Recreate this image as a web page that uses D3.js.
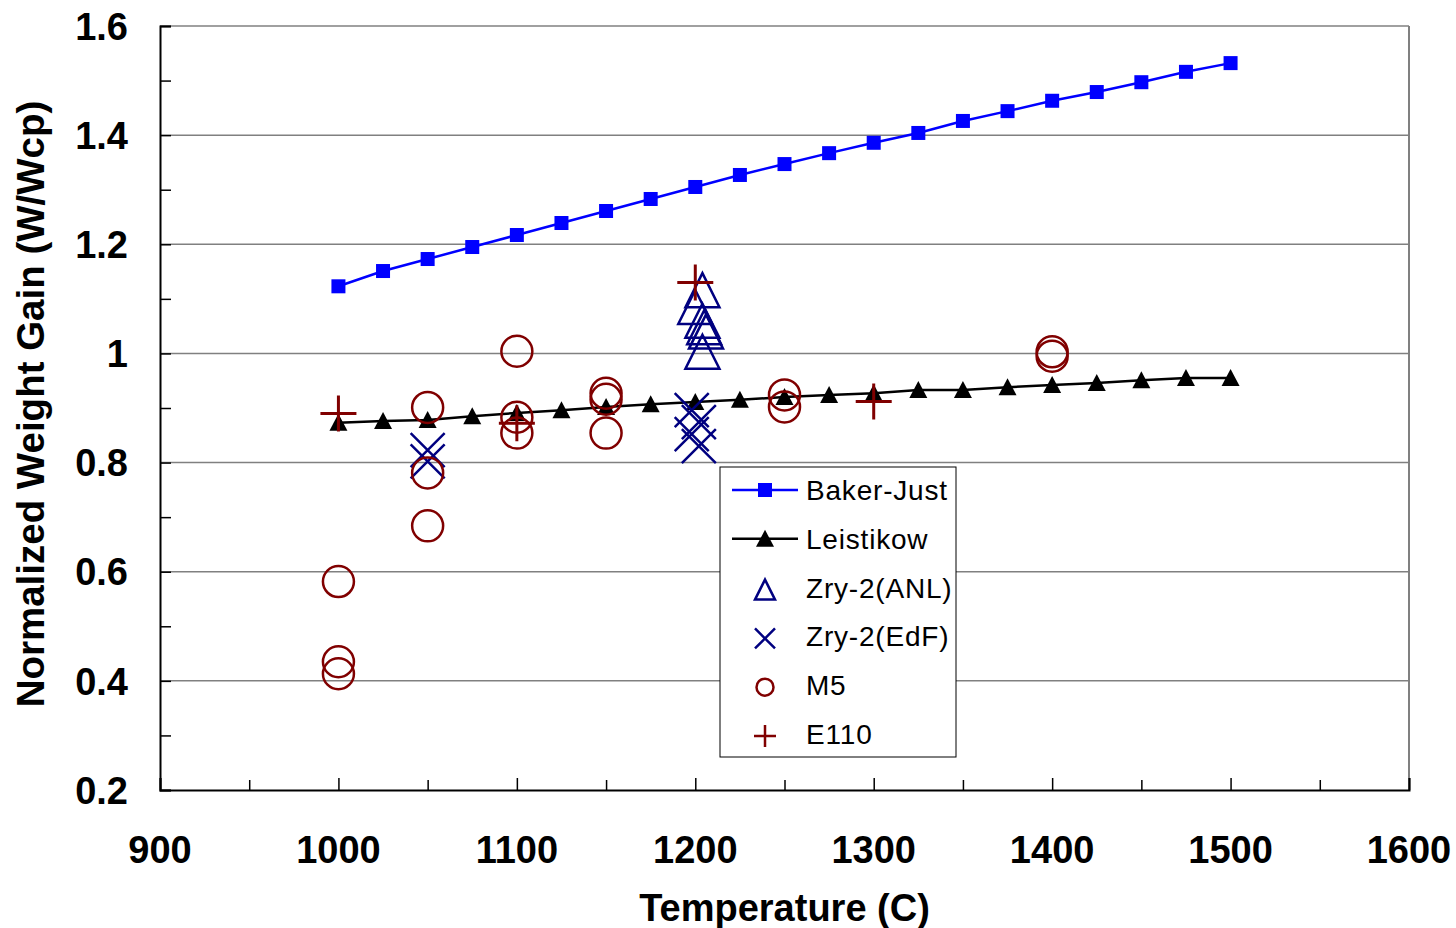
<!DOCTYPE html>
<html>
<head>
<meta charset="utf-8">
<script src="https://cdn.jsdelivr.net/npm/d3@7"></script>
<style>
  body { margin: 0; background: #fff; }
  text { font-family: "Liberation Sans", Arial, sans-serif; }
</style>
</head>
<body>
<div id="chart"></div>
<script>
// Baker-Just and Leistikow correlations
var bjTemp = [1000, 1025, 1050, 1075, 1100, 1125, 1150, 1175, 1200, 1225, 1250, 1275, 1300, 1325, 1350, 1375, 1400, 1425, 1450, 1475, 1500];
var bjGain = [1.123, 1.151, 1.173, 1.195, 1.217, 1.239, 1.261, 1.283, 1.305, 1.327, 1.347, 1.367, 1.386, 1.404, 1.426, 1.444, 1.463, 1.479, 1.497, 1.516, 1.532];
var lkTemp = bjTemp;
var lkGain = [0.873, 0.876, 0.878, 0.885, 0.891, 0.896, 0.902, 0.907, 0.911, 0.915, 0.920, 0.924, 0.927, 0.933, 0.933, 0.938, 0.942, 0.946, 0.951, 0.955, 0.955];

// measured points
var anlTemp = [1204, 1200, 1204, 1205, 1206, 1204];
var anlGain = [1.116, 1.085, 1.06, 1.048, 1.04, 1.003];
var edfTemp = [1050, 1050, 1198, 1202, 1198, 1202];
var edfGain = [0.823, 0.802, 0.896, 0.874, 0.852, 0.830];
var m5Temp = [1000, 1000, 1000, 1050, 1050, 1050, 1100, 1100, 1100, 1150, 1150, 1150, 1250, 1250, 1400, 1400];
var m5Gain = [0.582, 0.435, 0.413, 0.901, 0.781, 0.684, 1.004, 0.883, 0.854, 0.927, 0.916, 0.854, 0.924, 0.902, 1.003, 0.995];
var e110Temp = [1000, 1100, 1200, 1300];
var e110Gain = [0.890, 0.872, 1.130, 0.912];

var xTicks = [900, 1000, 1100, 1200, 1300, 1400, 1500, 1600];
var yTicks = [0.2, 0.4, 0.6, 0.8, 1.0, 1.2, 1.4, 1.6];
var legendNames = ["Baker-Just", "Leistikow", "Zry-2(ANL)", "Zry-2(EdF)", "M5", "E110"];

function pairs(xs, ys) {
    return xs.map(function (v, i) { return { t: v, g: ys[i] }; });
}

var W = 1456, H = 928;
var pLeft = 160, pRight = 1409, pTop = 26, pBottom = 790;

var svg = d3.select("#chart").append("svg")
    .attr("width", W)
    .attr("height", H);

var x = d3.scaleLinear().domain([900, 1600]).range([pLeft, pRight]);
var y = d3.scaleLinear().domain([0.2, 1.6]).range([pBottom, pTop]);

var navy = "#000080", maroon = "#800000", blue = "#0000ff";

// grid lines
svg.append("g")
    .selectAll("line")
    .data(yTicks.slice(1))
    .enter().append("line")
    .attr("x1", pLeft).attr("x2", pRight)
    .attr("y1", function (d) { return y(d); })
    .attr("y2", function (d) { return y(d); })
    .attr("stroke", "#808080")
    .attr("stroke-width", 1.5);

svg.append("line")
    .attr("x1", pRight).attr("x2", pRight)
    .attr("y1", pTop).attr("y2", pBottom)
    .attr("stroke", "#808080")
    .attr("stroke-width", 2);

// axes
var xAxis = d3.axisBottom(x).tickValues(d3.range(900, 1601, 50)).tickSize(-12).tickFormat("");
svg.append("g")
    .attr("transform", "translate(0," + pBottom + ")")
    .call(xAxis)
    .call(function (g) {
        g.select(".domain").attr("stroke", "#000").attr("stroke-width", 2);
        g.selectAll(".tick line").attr("stroke-width", 1.5)
            .attr("y2", function (d) { return d % 100 === 0 ? -12 : -10; });
    });

var yAxis = d3.axisLeft(y).tickValues(d3.range(2, 17).map(function (v) { return v / 10; })).tickSize(-11).tickFormat("");
svg.append("g")
    .attr("transform", "translate(" + pLeft + ",0)")
    .call(yAxis)
    .call(function (g) {
        g.select(".domain").attr("stroke", "#000").attr("stroke-width", 2);
        g.selectAll(".tick line").attr("stroke-width", 1.5);
    });

svg.append("g")
    .selectAll("text")
    .data(xTicks)
    .enter().append("text")
    .attr("x", function (d) { return x(d); })
    .attr("y", 863)
    .attr("text-anchor", "middle")
    .style("font-size", "38px")
    .style("font-weight", "bold")
    .text(function (d) { return d; });

svg.append("g")
    .selectAll("text")
    .data(yTicks)
    .enter().append("text")
    .attr("x", 128)
    .attr("y", function (d) { return y(d); })
    .attr("dy", "0.36em")
    .attr("text-anchor", "end")
    .style("font-size", "38px")
    .style("font-weight", "bold")
    .text(function (d) { return d === 1 ? "1" : d.toFixed(1); });

svg.append("text")
    .attr("x", (pLeft + pRight) / 2)
    .attr("y", 921)
    .attr("text-anchor", "middle")
    .style("font-size", "38px")
    .style("font-weight", "bold")
    .text("Temperature (C)");

svg.append("text")
    .attr("transform", "translate(44," + 404 + ") rotate(-90)")
    .attr("text-anchor", "middle")
    .style("font-size", "38.5px")
    .style("font-weight", "bold")
    .text("Normalized Weight Gain (W/Wcp)");

// marker shapes
function triPath(h) { return "M0," + (-h) + "L" + h + "," + h + "L" + (-h) + "," + h + "Z"; }
function crossPath(h) { return "M" + (-h) + "," + (-h) + "L" + h + "," + h + "M" + h + "," + (-h) + "L" + (-h) + "," + h; }
function plusPath(h) { return "M" + (-h) + ",0L" + h + ",0M0," + (-h) + "L0," + h; }
var solidTri = "M0,-9L9,8L-9,8Z";

var line = d3.line()
    .x(function (d) { return x(d.t); })
    .y(function (d) { return y(d.g); });

var bj = pairs(bjTemp, bjGain);
var lk = pairs(lkTemp, lkGain);

svg.append("path").datum(lk)
    .attr("d", line)
    .attr("fill", "none")
    .attr("stroke", "#000")
    .attr("stroke-width", 2.5);

svg.append("g").selectAll("path")
    .data(lk)
    .enter().append("path")
    .attr("transform", function (d) { return "translate(" + x(d.t) + "," + y(d.g) + ")"; })
    .attr("d", solidTri)
    .attr("fill", "#000");

svg.append("path").datum(bj)
    .attr("d", line)
    .attr("fill", "none")
    .attr("stroke", blue)
    .attr("stroke-width", 2.5);

svg.append("g").selectAll("rect")
    .data(bj)
    .enter().append("rect")
    .attr("x", function (d) { return x(d.t) - 7; })
    .attr("y", function (d) { return y(d.g) - 7; })
    .attr("width", 14)
    .attr("height", 14)
    .attr("fill", blue);

svg.append("g").selectAll("path")
    .data(pairs(anlTemp, anlGain))
    .enter().append("path")
    .attr("transform", function (d) { return "translate(" + x(d.t) + "," + y(d.g) + ")"; })
    .attr("d", triPath(17))
    .attr("fill", "none")
    .attr("stroke", navy)
    .attr("stroke-width", 2.5);

svg.append("g").selectAll("path")
    .data(pairs(edfTemp, edfGain))
    .enter().append("path")
    .attr("transform", function (d) { return "translate(" + x(d.t) + "," + y(d.g) + ")"; })
    .attr("d", crossPath(17))
    .attr("fill", "none")
    .attr("stroke", navy)
    .attr("stroke-width", 2.5);

svg.append("g").selectAll("circle")
    .data(pairs(m5Temp, m5Gain))
    .enter().append("circle")
    .attr("cx", function (d) { return x(d.t); })
    .attr("cy", function (d) { return y(d.g); })
    .attr("r", 15.5)
    .attr("fill", "none")
    .attr("stroke", maroon)
    .attr("stroke-width", 2.5);

svg.append("g").selectAll("path")
    .data(pairs(e110Temp, e110Gain))
    .enter().append("path")
    .attr("transform", function (d) { return "translate(" + x(d.t) + "," + y(d.g) + ")"; })
    .attr("d", plusPath(18))
    .attr("fill", "none")
    .attr("stroke", maroon)
    .attr("stroke-width", 3);

// legend
var lg = svg.append("g").attr("transform", "translate(720,467)");
lg.append("rect")
    .attr("width", 236).attr("height", 290)
    .attr("fill", "#fff")
    .attr("stroke", "#000")
    .attr("stroke-width", 1);

var item = lg.selectAll(".item")
    .data(legendNames)
    .enter().append("g")
    .attr("class", "item")
    .attr("transform", function (d, i) { return "translate(0," + (23 + i * 48.8) + ")"; });

item.append("text")
    .attr("x", 86)
    .attr("dy", "0.36em")
    .style("font-size", "28px")
    .style("letter-spacing", "0.8px")
    .text(function (d) { return d; });

item.each(function (d, i) {
    var g = d3.select(this);
    if (i < 2) {
        g.append("line").attr("x1", 12).attr("x2", 78)
            .attr("stroke", i === 0 ? blue : "#000").attr("stroke-width", 2.5);
    }
    if (i === 0) {
        g.append("rect").attr("x", 38).attr("y", -7).attr("width", 14).attr("height", 14).attr("fill", blue);
    } else if (i === 1) {
        g.append("path").attr("transform", "translate(45,0)").attr("d", solidTri).attr("fill", "#000");
    } else {
        var p = g.append("path").attr("transform", "translate(45,2)")
            .attr("fill", "none").attr("stroke-width", 2.5)
            .attr("stroke", i < 4 ? navy : maroon);
        if (i === 2) p.attr("d", triPath(10));
        if (i === 3) p.attr("d", crossPath(10));
        if (i === 4) p.attr("d", d3.arc()({ innerRadius: 0, outerRadius: 8.5, startAngle: 0, endAngle: 2 * Math.PI }));
        if (i === 5) p.attr("d", plusPath(11));
    }
});
</script>
</body>
</html>
